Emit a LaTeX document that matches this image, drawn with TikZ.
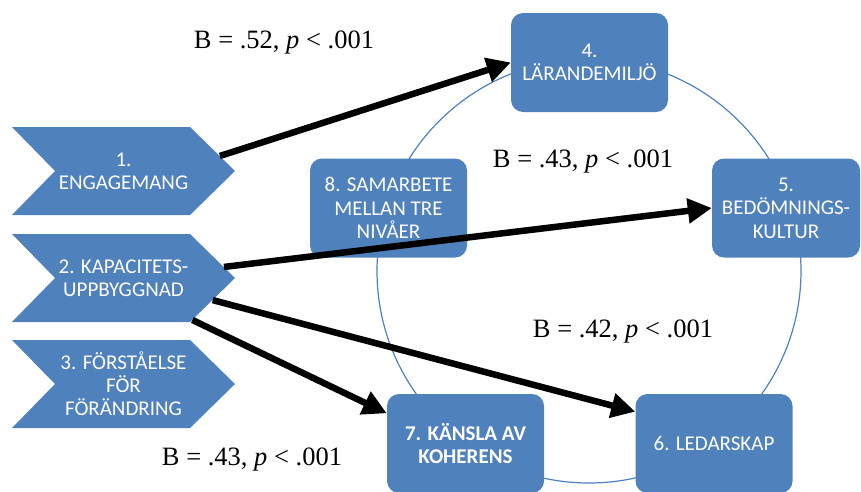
\documentclass[tikz,border=0pt]{standalone}
\usepackage{fontspec}
\setmainfont{Liberation Serif}
\newfontfamily\boxfont{Carlito}
\usetikzlibrary{arrows.meta,calc}
\definecolor{boxblue}{HTML}{4F81BD}

\begin{document}
\begin{tikzpicture}[x=1pt, y=-1pt, >={Triangle[length=24pt,width=24pt]},
  box/.style={rounded corners=12pt, fill=boxblue, text=white, font=\boxfont\fontsize{21}{23.5}\selectfont, align=center, inner sep=0pt, minimum width=157pt, minimum height=99pt},
  chevron/.style={text=white, font=\boxfont\fontsize{21}{23}\selectfont, align=center, inner sep=0pt, minimum width=223pt, minimum height=88pt,
    path picture={\fill[boxblue] (path picture bounding box.north west) -- ([xshift=-45pt]path picture bounding box.north east) -- (path picture bounding box.east) -- ([xshift=-45pt]path picture bounding box.south east) -- (path picture bounding box.south west) -- ([xshift=43pt]path picture bounding box.west) -- cycle;}},
  link/.style={->, line width=6.5pt},
  coef/.style={anchor=base, font=\fontsize{26.5}{28}\selectfont}]
\useasboundingbox (0,0) rectangle (861,491);
\coordinate (mid) at (589,271);
\draw[boxblue, line width=1.2pt] (mid) circle (212pt);
\node[chevron] (c1) at (123.5,171) {1.\\ENGAGEMANG};
\node[chevron] (c2) at (123.5,278) {2. KAPACITETS-\\UPPBYGGNAD};
\node[chevron] (c3) at (123.5,384) {3. FÖRSTÅELSE\\FÖR\\FÖRÄNDRING};
\node[box] (b4) at (589.5,62.5) {4.\\LÄRANDEMILJÖ};
\node[box, minimum width=148pt] (b5) at (786,208) {5.\\BEDÖMNINGS-\\KULTUR};
\node[box] (b8) at (388.5,208) {8. SAMARBETE\\MELLAN TRE\\NIVÅER};
\node[box, font=\boxfont\bfseries\fontsize{21}{23}\selectfont] (b7) at (465.5,443.5) {7. KÄNSLA AV\\KOHERENS};
\node[box] (b6) at (714,443.5) {6. LEDARSKAP};
\draw[link] ($([xshift=-45pt]c1.north east)!.66!(c1.east)$) -- (b4.west);
\draw[link] ($([xshift=-45pt]c2.north east)!.75!(c2.east)$) -- (b5.west);
\draw[link] ($(c2.east)!.5!([xshift=-45pt]c2.south east)$) -- (b6.158);
\draw[link] ($(c2.east)!.95!([xshift=-45pt]c2.south east)$) -- (b7.159);
\node[coef] (k1) at (284,48) {B = .52, \textit{p} < .001};
\node[coef] (k2) at (583,167) {B = .43, \textit{p} < .001};
\node[coef] (k3) at (623,337) {B = .42, \textit{p} < .001};
\node[coef] (k4) at (252,465) {B = .43, \textit{p} < .001};
\end{tikzpicture}
\end{document}
